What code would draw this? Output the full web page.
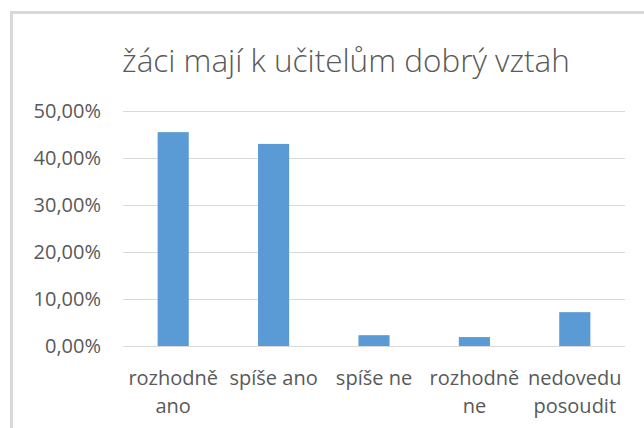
<!DOCTYPE html>
<html>
<head>
<meta charset="utf-8">
<script src="https://cdn.jsdelivr.net/npm/d3@7"></script>
<style>
  html, body { margin: 0; padding: 0; background: #fff; }
  svg { display: block; }
  text { font-family: "Open Sans", Lato, sans-serif; fill: #595959; }
</style>
</head>
<body>
<script>
var categories = [["rozhodně", "ano"], ["spíše ano"], ["spíše ne"], ["rozhodně", "ne"], ["nedovedu", "posoudit"]];
var values = [0.455, 0.430, 0.023, 0.019, 0.072];
var yTicks = [0, 0.1, 0.2, 0.3, 0.4, 0.5];
var title = "žáci mají k učitelům dobrý vztah";

var width = 644, height = 428;
var margin = { top: 111, right: 19, bottom: 82, left: 123 };

var svg = d3
  .select("body")
  .append("svg")
  .attr("width", width)
  .attr("height", height);

// chart frame, only left and top visible
svg
  .append("rect")
  .attr("x", 11.5)
  .attr("y", 12.5)
  .attr("width", 700)
  .attr("height", 500)
  .attr("fill", "none")
  .attr("stroke", "#d9d9d9")
  .attr("stroke-width", 3);

svg
  .append("text")
  .attr("x", 346)
  .attr("y", 72)
  .attr("text-anchor", "middle")
  .style("font-size", "31.5px")
  .style("font-weight", 300)
  .text(title);

var x = d3
  .scaleBand()
  .domain(d3.range(values.length))
  .range([margin.left, width - margin.right])
  .paddingInner(0.69)
  .paddingOuter(0.345);

var y = d3
  .scaleLinear()
  .domain([0, 0.5])
  .range([height - margin.bottom, margin.top]);

var fmt = function(d) {
  return d3.format(".2f")(d * 100).replace(".", ",") + "%";
};

// gridlines
svg
  .append("g")
  .selectAll("line")
  .data(yTicks)
  .enter()
  .append("line")
  .attr("x1", margin.left)
  .attr("x2", width - margin.right)
  .attr("y1", function(d) { return Math.round(y(d)) + 0.5; })
  .attr("y2", function(d) { return Math.round(y(d)) + 0.5; })
  .attr("stroke", "#d9d9d9")
  .attr("stroke-width", 1);

// y labels
svg
  .append("g")
  .selectAll("text")
  .data(yTicks)
  .enter()
  .append("text")
  .attr("x", 101)
  .attr("y", function(d) { return y(d); })
  .attr("dy", "0.36em")
  .attr("text-anchor", "end")
  .style("font-size", "20px")
  .text(fmt);

// bars
svg
  .append("g")
  .selectAll("rect")
  .data(values)
  .enter()
  .append("rect")
  .attr("x", function(d, i) { return x(i); })
  .attr("y", function(d) { return y(d); })
  .attr("width", x.bandwidth())
  .attr("height", function(d) { return y(0) - y(d); })
  .attr("fill", "#5b9bd5");

// category labels
var cat = svg
  .append("g")
  .selectAll("text")
  .data(categories)
  .enter()
  .append("text")
  .attr("text-anchor", "middle")
  .style("font-size", "20px");

cat
  .selectAll("tspan")
  .data(function(d, i) {
    return d.map(function(s) { return { s: s, i: i }; });
  })
  .enter()
  .append("tspan")
  .attr("x", function(d) { return x(d.i) + x.bandwidth() / 2; })
  .attr("y", function(d, j) { return 385 + j * 28; })
  .text(function(d) { return d.s; });
</script>
</body>
</html>
